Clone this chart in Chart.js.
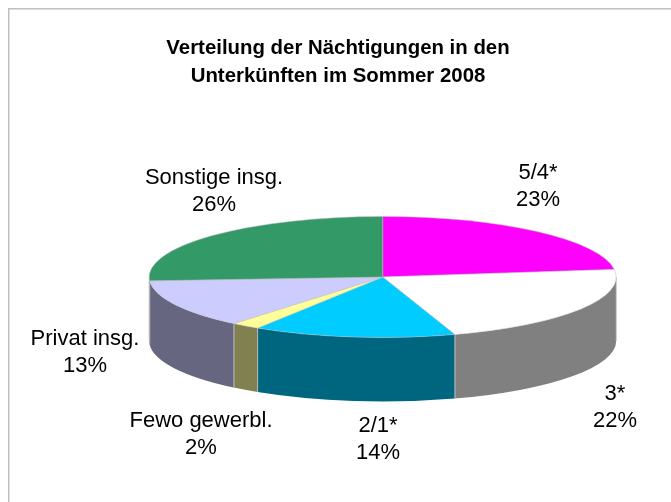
<!DOCTYPE html>
<html>
<head>
<meta charset="utf-8">
<style>html,body{margin:0;padding:0;background:#fff}canvas{display:block}</style>
<script src="https://cdn.jsdelivr.net/npm/chart.js@4/dist/chart.umd.min.js"></script>
</head>
<body>
<canvas id="c" width="671" height="502"></canvas>
<script>
const titleLines = ["Verteilung der Nächtigungen in den", "Unterkünften im Sommer 2008"];
const categories = ["5/4*", "3*", "2/1*", "Fewo gewerbl.", "Privat insg.", "Sonstige insg."];
const values = [23, 22, 14, 2, 13, 26];
const topColors = ["#FF00FF", "#FFFFFF", "#00CCFF", "#FFFF99", "#CCCCFF", "#339966"];
const sideColors = ["#800080", "#808080", "#006680", "#808050", "#666680", "#1A4D33"];
const labelAnchors = [[538, 172.5], [615, 393.5], [378, 425.5], [201, 421], [85, 338.5], [214, 177.5]];

const FONT = '"Liberation Sans", Arial, sans-serif';
const PIE = {cx: 382.7, cy: 277, rx: 233.5, ry: 60.5, depth: 64};

const pie3d = {
  id: "pie3d",
  beforeDraw(chart) {
    const c = chart.ctx;
    c.save();
    c.strokeStyle = "#C0C0C0";
    c.lineWidth = 1.5;
    c.beginPath();
    c.moveTo(8.75, 502);
    c.lineTo(8.75, 8.75);
    c.lineTo(671, 8.75);
    c.stroke();
    c.restore();
  },
  beforeDatasetsDraw(chart) {
    const c = chart.ctx;
    const arcs = chart.getDatasetMeta(0).data;
    const TWO_PI = Math.PI * 2;
    c.save();
    arcs.forEach((arc, i) => {
      // visible front wall: canvas angles between 0 and PI
      const s = arc.startAngle, e = arc.endAngle;
      [-TWO_PI, 0, TWO_PI].forEach(shift => {
        const a = Math.max(s + shift, 0), b = Math.min(e + shift, Math.PI);
        if (b <= a) return;
        const xa = PIE.cx + PIE.rx * Math.cos(a), ya = PIE.cy + PIE.ry * Math.sin(a);
        const xb = PIE.cx + PIE.rx * Math.cos(b), yb = PIE.cy + PIE.ry * Math.sin(b);
        c.beginPath();
        c.ellipse(PIE.cx, PIE.cy, PIE.rx, PIE.ry, 0, a, b, false);
        c.lineTo(xb, yb + PIE.depth);
        c.ellipse(PIE.cx, PIE.cy + PIE.depth, PIE.rx, PIE.ry, 0, b, a, true);
        c.closePath();
        c.fillStyle = sideColors[i];
        c.fill();
        c.strokeStyle = "#BDBDBD";
        c.lineWidth = 0.8;
        c.beginPath();
        c.moveTo(xa, ya);
        c.lineTo(xa, ya + PIE.depth);
        c.moveTo(xb, yb);
        c.lineTo(xb, yb + PIE.depth);
        c.stroke();
      });
    });
    c.restore();
    const a0 = arcs[0];
    c.save();
    c.translate(PIE.cx, PIE.cy);
    c.scale(PIE.rx / a0.outerRadius, PIE.ry / a0.outerRadius);
    c.translate(-a0.x, -a0.y);
  },
  afterDatasetsDraw(chart) {
    chart.ctx.restore();
  },
  afterDraw(chart) {
    const c = chart.ctx;
    c.save();
    c.fillStyle = "#000";
    c.font = "22px " + FONT;
    c.textAlign = "center";
    c.textBaseline = "middle";
    categories.forEach((name, i) => {
      const [x, y] = labelAnchors[i];
      c.fillText(name, x, y);
      c.fillText(values[i] + "%", x, y + 27);
    });
    c.restore();
  }
};

new Chart(document.getElementById("c"), {
  type: "pie",
  plugins: [pie3d],
  data: {
    labels: categories,
    datasets: [{
      data: values,
      backgroundColor: topColors,
      borderColor: "#BDBDBD",
      borderWidth: 0.8,
      radius: 233.5
    }]
  },
  options: {
    responsive: false,
    animation: false,
    layout: {padding: {left: 5}},
    plugins: {
      legend: {display: false},
      tooltip: {enabled: false},
      title: {
        display: true,
        text: titleLines,
        color: "#000",
        fullSize: false,
        font: {family: FONT, size: 20.4, weight: "bold", lineHeight: 1.35},
        padding: {top: 35, bottom: 0}
      }
    }
  }
});
</script>
</body>
</html>
